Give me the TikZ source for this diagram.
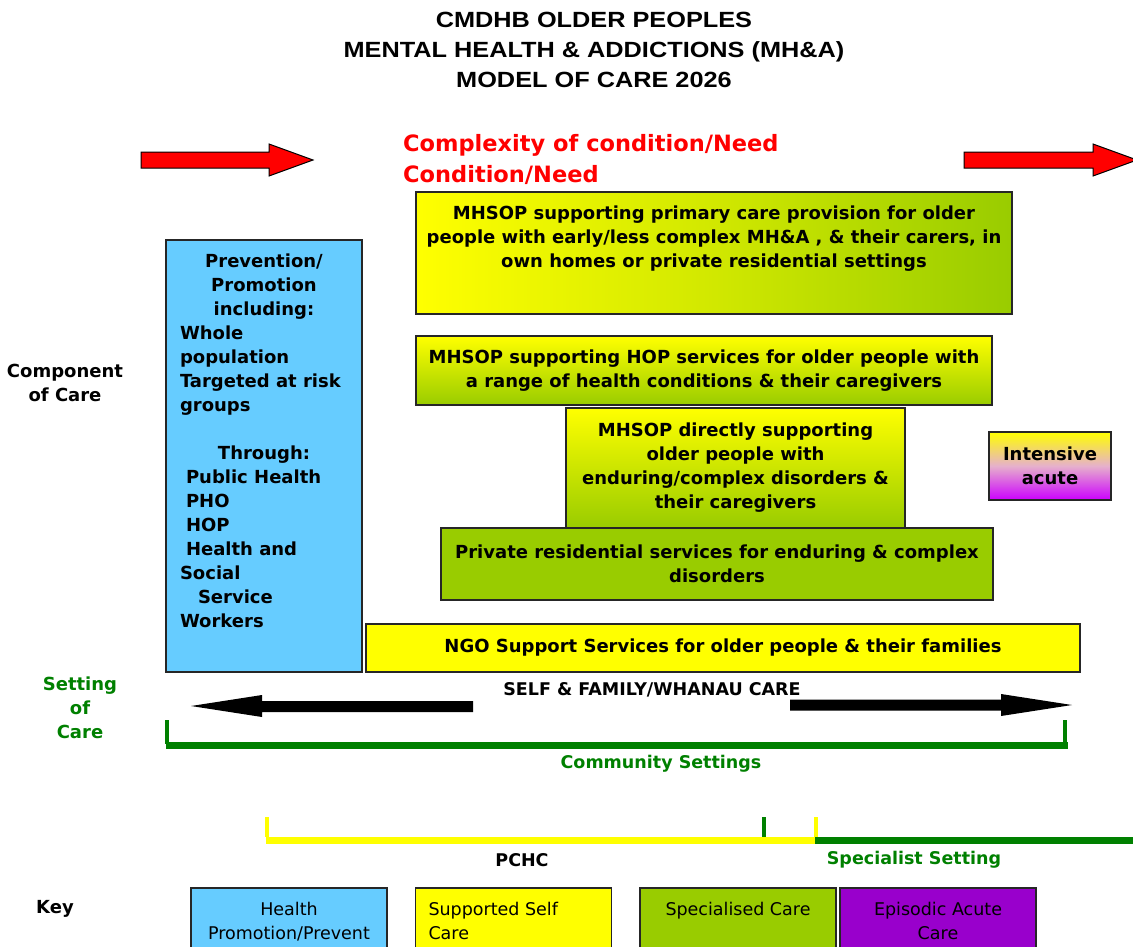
\documentclass[tikz,border=0pt]{standalone}
\usepackage{fontspec}
\setmainfont{DejaVu Sans}
\newfontfamily\titlefont{Liberation Sans}[FakeStretch=1.15]
\usepackage{tikz}

\definecolor{hpblue}{HTML}{66CCFF}
\definecolor{selfyellow}{HTML}{FFFF00}
\definecolor{specgreen}{HTML}{99CC00}
\definecolor{acutepurple}{HTML}{9900CC}
\definecolor{intensepurple}{HTML}{CC00FF}
\definecolor{intensepink}{HTML}{E6B0CC}
\definecolor{settinggreen}{HTML}{008000}

\tikzset{
    carebox/.style={draw=black!85,line width=1.3pt,inner sep=0pt,align=center,
                    font=\bfseries\fontsize{18}{24}\selectfont},
    keybox/.style={draw=black!85,line width=1.3pt,inner sep=0pt,
                   minimum width=196,minimum height=70,
                   font=\fontsize{17.5}{24}\selectfont},
    sidelabel/.style={align=center,inner sep=0pt,font=\bfseries\fontsize{18}{24}\selectfont},
    barlabel/.style={inner sep=0pt,font=\bfseries\fontsize{17.5}{22}\selectfont},
    blockarrow/.style={draw=black,line width=1pt,line join=miter}
}

\begin{document}
\begin{tikzpicture}[x=1pt,y=-1pt]
        \useasboundingbox (0,0) rectangle (1133,946);
        \clip (0,0) rectangle (1133,946);

        \node (title) at (594,50) [align=center,font=\titlefont\bfseries\fontsize{22}{30}\selectfont]
            {CMDHB OLDER PEOPLES\\MENTAL HEALTH \& ADDICTIONS (MH\&A)\\MODEL OF CARE 2026};

        % Complexity arrows
        \filldraw[blockarrow,fill=red] (141,152) -- (269,152) -- (269,144) -- (313,160)
                                       -- (269,176) -- (269,168) -- (141,168) -- cycle;
        \filldraw[blockarrow,fill=red] (964,152) -- (1093,152) -- (1093,144) -- (1137,160)
                                       -- (1093,176) -- (1093,168) -- (964,168) -- cycle;
        \node (complexity) at (403,159) [anchor=west,align=left,inner sep=0pt,text=red,
                                         font=\bfseries\fontsize{22.5}{31}\selectfont]
            {Complexity of condition/Need\\Condition/Need};

        \node (component) at (65,383) [sidelabel] {Component\\of Care};
        \node (setting)   at (80,708) [sidelabel,text=settinggreen] {Setting\\of\\Care};

        \node (prevention) at (264,456) [carebox,fill=hpblue,minimum width=196,minimum height=432]
            {\parbox[t][404pt][t]{168pt}{%
                {\centering Prevention/\\Promotion\\including:\par}
                {\raggedright Whole\\population\\Targeted at risk\\groups\par}
                \vspace{24pt}
                {\centering Through:\par}
                {\raggedright\hspace*{6pt}Public Health\\\hspace*{6pt}PHO\\\hspace*{6pt}HOP\\
                 \hspace*{6pt}Health and\\Social\\\hspace*{18pt}Service\\Workers\par}}};

        \node (primary) at (714,253) [carebox,left color=selfyellow,right color=specgreen,
                                      middle color=selfyellow!55!specgreen,minimum width=596,minimum height=122]
            {\parbox[t][94pt][t]{590pt}{\centering MHSOP supporting primary care provision for older\\
             people with early/less complex MH\&A , \& their carers, in\\
             own homes or private residential settings}};
        \node (hop)      at (704,370.5) [carebox,top color=selfyellow,bottom color=specgreen,
                                         minimum width=576,minimum height=69]
            {MHSOP supporting HOP services for older people with\\a range of health conditions \& their caregivers};
        \node (direct)   at (735.5,468) [carebox,top color=selfyellow,bottom color=specgreen,
                                         minimum width=339,minimum height=120]
            {MHSOP directly supporting\\older people with\\enduring/complex disorders \&\\their caregivers};
        \node (private)  at (717,564)   [carebox,fill=specgreen,minimum width=552,minimum height=72]
            {Private residential services for enduring \& complex\\disorders};
        \node (intensive) at (1050,466) [carebox,top color=selfyellow,bottom color=intensepurple,
                                         middle color=intensepink,minimum width=122,minimum height=68]
            {Intensive\\acute};
        \node (ngo)      at (723,648)   [carebox,fill=selfyellow,minimum width=714,minimum height=48]
            {NGO Support Services for older people \& their families};

        % Self and family care
        \node (selfcare) at (652,690) [barlabel] {SELF \& FAMILY/WHANAU CARE};
        \fill (473,701) -- (262,701) -- (262,695) -- (191,706) -- (262,717) -- (262,712) -- (473,712) -- cycle;
        \fill (790,699.5) -- (1001,699.5) -- (1001,694) -- (1072,705) -- (1001,716) -- (1001,710.5) -- (790,710.5) -- cycle;

        % Setting brackets
        \draw[settinggreen,line width=7pt] (166,745) -- (1068,745);
        \foreach \x in {167,1065}
            \draw[settinggreen,line width=4pt] (\x,720) -- (\x,744);
        \node (community) at (661,764) [barlabel,text=settinggreen] {Community Settings};

        \draw[settinggreen,line width=7pt] (764,840) -- (1133,840);
        \draw[selfyellow,line width=7pt] (266,840) -- (815,840);
        \foreach \x/\c in {267/selfyellow,764/settinggreen,816/selfyellow}
            \draw[\c,line width=4pt] (\x,817) -- (\x,837);
        \node (pchc)       at (522,860) [barlabel] {PCHC};
        \node (specialist) at (914,860) [barlabel,text=settinggreen] {Specialist Setting};

        % Key
        \node (key)     at (55,909)  [sidelabel] {Key};
        \node (hpkey)   at (289,923) [keybox,fill=hpblue]
            {\parbox[t][42pt][t]{180pt}{\centering Health\\Promotion/Prevent}};
        \node (selfkey) at (513.5,923) [keybox,fill=selfyellow]
            {\parbox[t][42pt][t]{170pt}{\raggedright Supported Self\\Care}};
        \node (speckey) at (738,923) [keybox,fill=specgreen]
            {\parbox[t][42pt][t]{180pt}{\centering Specialised Care}};
        \node (acutekey) at (938,923) [keybox,fill=acutepurple]
            {\parbox[t][42pt][t]{180pt}{\centering Episodic Acute\\Care}};
\end{tikzpicture}
\end{document}
